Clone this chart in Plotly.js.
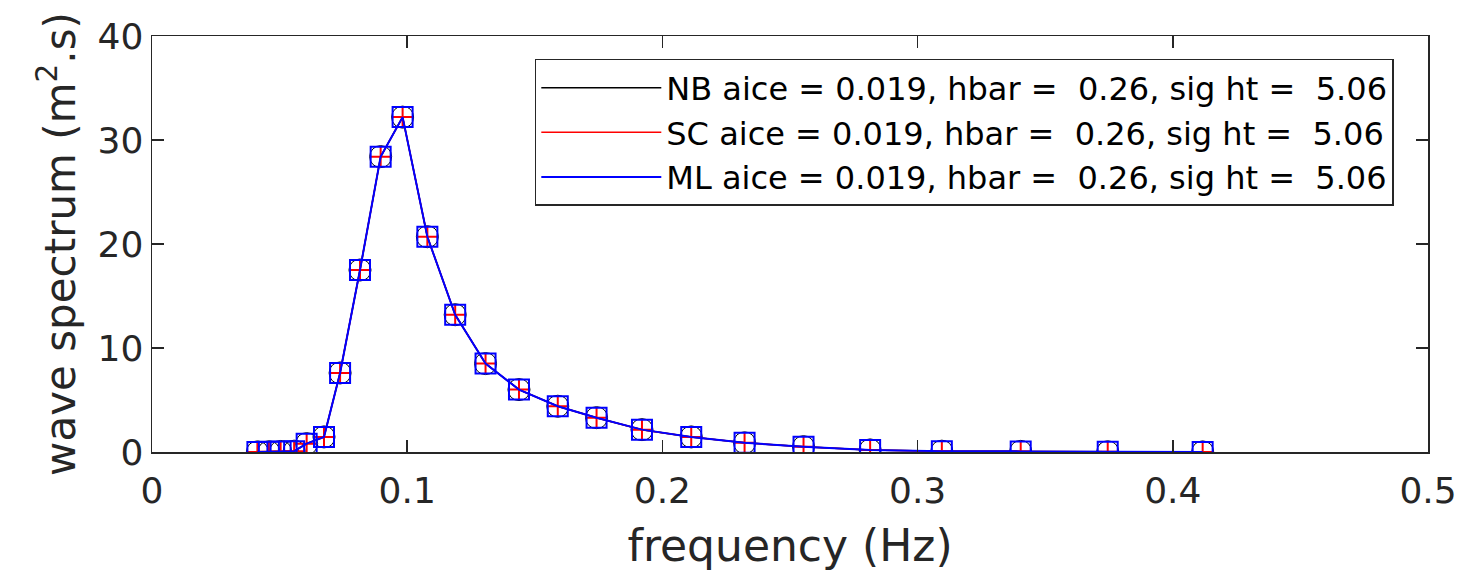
<!DOCTYPE html>
<html>
<head>
<meta charset="utf-8">
<script src="https://cdn.plot.ly/plotly-3.0.1.min.js"></script>
<style>html,body{margin:0;padding:0;background:#fff;}#chart{width:1463px;height:574px;}</style>
</head>
<body>
<div id="chart"></div>
<script>
// frequency (Hz)
const freq = [0.0413, 0.0458, 0.0504, 0.0557, 0.0606, 0.0674, 0.0737, 0.0815, 0.0896, 0.0982,
              0.1079, 0.1188, 0.1307, 0.1438, 0.1590, 0.1742, 0.1920, 0.2113, 0.2322, 0.2553,
              0.2814, 0.3095, 0.3404, 0.3745, 0.4117];
// wave spectrum (m^2.s)
const specNB = [0.01, 0.02, 0.05, 0.08, 0.80, 1.45, 7.6, 17.5, 28.4, 32.2,
                20.7, 13.2, 8.5, 6.0, 4.4, 3.3, 2.15, 1.45, 0.88, 0.51,
                0.20, 0.08, 0.06, 0.02, 0.01];
const specSC = [0.01, 0.02, 0.05, 0.08, 0.80, 1.45, 7.6, 17.5, 28.4, 32.2,
                20.7, 13.2, 8.5, 6.0, 4.4, 3.3, 2.15, 1.45, 0.88, 0.51,
                0.20, 0.08, 0.06, 0.02, 0.01];
const specML = [0.01, 0.02, 0.05, 0.08, 0.80, 1.45, 7.6, 17.5, 28.4, 32.2,
                20.7, 13.2, 8.5, 6.0, 4.4, 3.3, 2.15, 1.45, 0.88, 0.51,
                0.20, 0.08, 0.06, 0.02, 0.01];
const seriesNames = ['NB aice = 0.019, hbar =  0.26, sig ht =  5.06',
                     'SC aice = 0.019, hbar =  0.26, sig ht =  5.06',
                     'ML aice = 0.019, hbar =  0.26, sig ht =  5.06'];
const xTicks = [0, 0.1, 0.2, 0.3, 0.4, 0.5];
const xTickText = ['0', '0.1', '0.2', '0.3', '0.4', '0.5'];
const yTicks = [0, 10, 20, 30, 40];

const colors = ['#000000', '#ff0000', '#0000ff'];
const symbols = ['circle-open', 'cross-thin-open', 'square-open'];
const sizes = [22, 15, 20];
const markerWidths = [1, 2, 2];
const lineWidths = [1.5, 1.5, 2];
const data = [specNB, specSC, specML];

const traces = [];
data.forEach((ys, i) => {
  traces.push({
    x: freq, y: ys, type: 'scatter', mode: 'lines', name: seriesNames[i],
    line: {color: colors[i], width: lineWidths[i]}, showlegend: true, hoverinfo: 'skip'
  });
  traces.push({
    x: freq, y: ys, type: 'scatter', mode: 'markers', showlegend: false,
    marker: {symbol: symbols[i], size: sizes[i], color: colors[i], line: {color: colors[i], width: markerWidths[i]}},
    hoverinfo: 'skip'
  });
});

const axisCommon = {
  showgrid: false, zeroline: false, showline: true, mirror: 'ticks',
  linecolor: '#262626', linewidth: 1.5, ticks: 'inside', ticklen: 12,
  tickwidth: 1.5, tickcolor: '#262626',
  tickfont: {family: 'DejaVu Sans', size: 36, color: '#262626'}
};

const layout = {
  width: 1463, height: 574,
  margin: {l: 152, r: 35, t: 36, b: 122},
  paper_bgcolor: '#ffffff', plot_bgcolor: '#ffffff',
  showlegend: true,
  xaxis: Object.assign({}, axisCommon, {
    range: [0, 0.5], tickvals: xTicks, ticktext: xTickText, ticklabelstandoff: 6,
    title: {text: 'frequency (Hz)', font: {family: 'DejaVu Sans', size: 44, color: '#262626'}, standoff: 20}
  }),
  yaxis: Object.assign({}, axisCommon, {
    range: [0, 40], tickvals: yTicks,
    title: {text: 'wave spectrum (m<sup>2</sup>.s)', font: {family: 'DejaVu Sans', size: 42, color: '#262626'}, standoff: 9}
  }),
  legend: {
    x: 0.300, y: 0.945, xanchor: 'left', yanchor: 'top',
    bgcolor: '#ffffff', bordercolor: '#262626', borderwidth: 1.5,
    font: {family: 'DejaVu Sans', size: 32, color: '#000000'},
    itemwidth: 120, tracegroupgap: 0
  }
};

Plotly.newPlot('chart', traces, layout, {staticPlot: true, displayModeBar: false});
</script>
</body>
</html>
